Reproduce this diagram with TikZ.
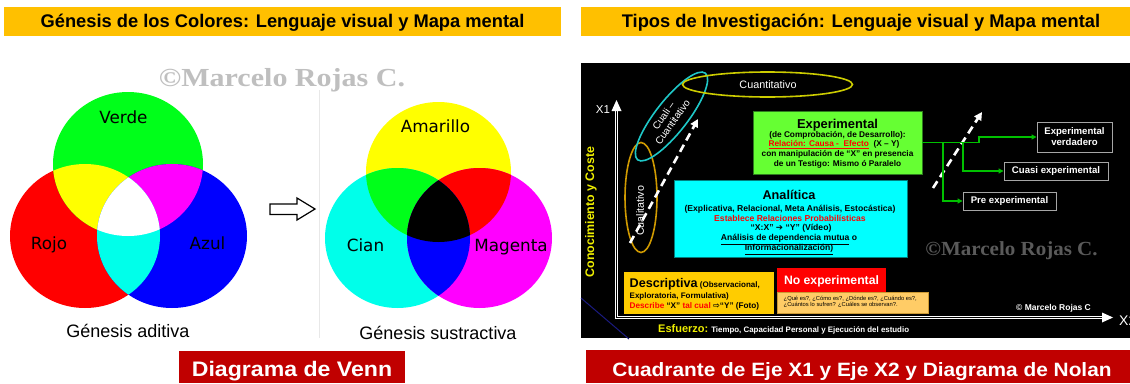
\documentclass[tikz,border=0pt]{standalone}
\usepackage{fontspec}
\usepackage{graphicx}
\setmainfont{Liberation Sans}
\newfontfamily\dvsans{DejaVu Sans}
\newfontfamily\wmserif{Liberation Serif}
\usetikzlibrary{arrows.meta}
\definecolor{titleor}{HTML}{FFC000}
\definecolor{darkred}{HTML}{C00000}
\definecolor{wmgray}{HTML}{BFBFBF}
\definecolor{sepgray}{HTML}{E8E8E8}
\definecolor{vred}{HTML}{FF0000}
\definecolor{vgreen}{HTML}{00FF1A}
\definecolor{vblue}{HTML}{0000FF}
\definecolor{vyellow}{HTML}{FFFF00}
\definecolor{vmag}{HTML}{FF00FF}
\definecolor{vcyan}{HTML}{00FFEA}
\definecolor{expgreen}{HTML}{66FF33}
\definecolor{expedge}{HTML}{2E7D1E}
\definecolor{analcyan}{HTML}{00FFFF}
\definecolor{analedge}{HTML}{008080}
\definecolor{descor}{HTML}{FFCC00}
\definecolor{qor}{HTML}{FFCC66}
\definecolor{qedge}{HTML}{CC9933}
\definecolor{linegreen}{HTML}{00C000}
\definecolor{axyellow}{HTML}{EEEE00}
\definecolor{goldell}{HTML}{D09A00}
\definecolor{cyanell}{HTML}{1FC8C8}
\definecolor{yellell}{HTML}{CCCC00}
\definecolor{wmdark}{HTML}{5A5A5A}
\definecolor{navyline}{HTML}{1A1A80}
\definecolor{boxedge}{HTML}{A6A6A6}
\newcommand{\fsz}[1]{\fontsize{#1}{#1}\selectfont}
\tikzset{
  plainbox/.style={rectangle, inner sep=0pt, outer sep=0pt},
  txt/.style={anchor=base, inner sep=0pt},
  ltxt/.style={anchor=base west, inner sep=0pt},
  vlabel/.style={anchor=base, inner sep=0pt, font=\dvsans\fsz{16.8}},
  resbox/.style={rectangle, draw=boxedge, line width=0.9pt, fill=black, text=white,
    font=\bfseries\fontsize{9.6}{11}\selectfont, align=center, inner sep=0pt},
  gline/.style={draw=linegreen, line width=1.1pt},
  garrow/.style={gline, -{Triangle[length=5pt,width=5pt]}},
  wdash/.style={white, line width=2.6pt, dash pattern=on 8pt off 5pt, -{Triangle[length=8pt,width=8pt]}},
  ell/.style={line width=1.6pt}
}
\begin{document}
\begin{tikzpicture}[x=1pt,y=-1pt]
\clip (0,0) rectangle (1130,383);
\fill[white] (0,0) rectangle (1130,383);

% ---------- titles ----------
\node[plainbox, fill=titleor, minimum width=557pt, minimum height=29pt] (barL) at (282.5,21.5) {};
\node[txt, font=\bfseries\fsz{18.3}] (titleL) at (282.5,27.5) {Génesis de los Colores: Lenguaje visual y Mapa mental};
\node[plainbox, fill=titleor, minimum width=549pt, minimum height=29pt] (barR) at (855.5,21.5) {};
\node[txt, font=\bfseries\fsz{18.3}] (titleR) at (861,27.5) {Tipos de Investigación: Lenguaje visual y Mapa mental};

% ---------- left panel ----------
\node[txt, text=wmgray, font=\wmserif\bfseries\fsz{26}] (wmL) at (282,86.5) {\scalebox{1.155}[1]{©Marcelo Rojas C.}};
\draw[sepgray, line width=0.8pt] (319,90) -- (319,338);

% additive Venn
\coordinate (cg) at (128,164);
\coordinate (cr) at (85,236);
\coordinate (cb) at (172,236);
\fill[vred] (cr) ellipse [x radius=75pt, y radius=72pt];
\fill[vgreen] (cg) ellipse [x radius=75pt, y radius=72pt];
\fill[vblue] (cb) ellipse [x radius=75pt, y radius=72pt];
\begin{scope}
  \clip (cr) ellipse [x radius=75pt, y radius=72pt];
  \fill[vyellow] (cg) ellipse [x radius=75pt, y radius=72pt];
\end{scope}
\begin{scope}
  \clip (cg) ellipse [x radius=75pt, y radius=72pt];
  \fill[vmag] (cb) ellipse [x radius=75pt, y radius=72pt];
\end{scope}
\begin{scope}
  \clip (cr) ellipse [x radius=75pt, y radius=72pt];
  \fill[vcyan] (cb) ellipse [x radius=75pt, y radius=72pt];
\end{scope}
\begin{scope}
  \clip (cr) ellipse [x radius=75pt, y radius=72pt];
  \clip (cg) ellipse [x radius=75pt, y radius=72pt];
  \fill[white] (cb) ellipse [x radius=75pt, y radius=72pt];
\end{scope}
\node[vlabel] (lverde) at (123.5,123.5) {Verde};
\node[vlabel] (lrojo) at (49,249) {Rojo};
\node[vlabel] (lazul) at (207.5,249) {Azul};

% hollow arrow
\draw[line width=1.2pt, fill=white, line join=miter] (270,204) -- (297,204) -- (297,198) -- (315,209)
  -- (297,220) -- (297,214.5) -- (270,214.5) -- cycle;

% subtractive Venn
\coordinate (sy) at (438.5,172);
\coordinate (sc) at (397.5,238);
\coordinate (sm) at (479.5,238);
\fill[vyellow] (sy) ellipse [x radius=72.5pt, y radius=70pt];
\fill[vcyan] (sc) ellipse [x radius=72.5pt, y radius=70pt];
\fill[vmag] (sm) ellipse [x radius=72.5pt, y radius=70pt];
\begin{scope}
  \clip (sy) ellipse [x radius=72.5pt, y radius=70pt];
  \fill[vgreen] (sc) ellipse [x radius=72.5pt, y radius=70pt];
\end{scope}
\begin{scope}
  \clip (sy) ellipse [x radius=72.5pt, y radius=70pt];
  \fill[vred] (sm) ellipse [x radius=72.5pt, y radius=70pt];
\end{scope}
\begin{scope}
  \clip (sc) ellipse [x radius=72.5pt, y radius=70pt];
  \fill[vblue] (sm) ellipse [x radius=72.5pt, y radius=70pt];
\end{scope}
\begin{scope}
  \clip (sy) ellipse [x radius=72.5pt, y radius=70pt];
  \clip (sc) ellipse [x radius=72.5pt, y radius=70pt];
  \fill[black] (sm) ellipse [x radius=72.5pt, y radius=70pt];
\end{scope}
\node[vlabel] (lamar) at (435.5,132) {Amarillo};
\node[vlabel] (lcian) at (365.5,251) {Cian};
\node[vlabel] (lmag) at (511,251) {Magenta};

\node[txt, font=\fsz{18}] (capA) at (128,337) {Génesis aditiva};
\node[txt, font=\fsz{18}] (capS) at (438,339) {Génesis sustractiva};

\node[plainbox, fill=darkred, minimum width=226pt, minimum height=32pt] (venbox) at (292,367) {};
\node[txt, text=white, font=\bfseries\fsz{21}] (ventext) at (292,376) {\scalebox{1.1}[1]{Diagrama de Venn}};

% ---------- right panel ----------
\node[plainbox, fill=black, minimum width=549pt, minimum height=275pt] (panel) at (855.5,200.5) {};
\draw[navyline, line width=1pt] (581,298) -- (629,339);

\coordinate (org) at (616.5,317.5);
\coordinate (x1b) at (616.5,110);
\coordinate (x2b) at (1103,317.5);
\draw[white, line width=0.9pt, double=black, double distance=1.1pt] (x1b) -- (org) -- (x2b);
\fill[white] (616.5,100) -- (611.5,111) -- (621.5,111) -- cycle;
\fill[white] (1113,317.5) -- (1102,312.5) -- (1102,322.5) -- cycle;
\node[txt, text=white, font=\fsz{11.5}] (lx1) at (603,113) {X1};
\node[ltxt, text=white, font=\fsz{14}] (lx2) at (1119,325) {X2};

\node[rotate=90, text=axyellow, font=\bfseries\fsz{12.4}, inner sep=0pt] (lcc) at (591,212) {Conocimiento y Coste};

% ellipses
\draw[ell, goldell] (641,197.5) ellipse [x radius=16pt, y radius=55pt];
\node[rotate=90, text=white, font=\fsz{10.7}, inner sep=0pt] (lcual) at (640,211) {Cualitativo};
\draw[ell, cyanell, rotate around={52:(671.5,116.5)}] (671.5,116.5) ellipse [x radius=55pt, y radius=16pt];
\node[rotate=55, text=white, font=\fontsize{10}{11}\selectfont, align=center, inner sep=0pt] (lcq) at (668,119) {Cuali –\\Cuantitativo};
\draw[ell, yellell] (767.5,84.5) ellipse [x radius=85pt, y radius=12.5pt];
\node[text=white, font=\fsz{10.8}, inner sep=0pt] (lcuant) at (768,84.5) {Cuantitativo};

% dashed arrows
\coordinate (da1) at (630,243);
\coordinate (db1) at (698,119);
\draw[wdash] (da1) -- (db1);
\coordinate (da2) at (933,188);
\coordinate (db2) at (982,112);
\draw[wdash] (da2) -- (db2);

% Experimental
\node[plainbox, fill=expgreen, draw=expedge, line width=0.6pt, minimum width=169pt, minimum height=63pt] (exp) at (837.5,142.5) {};
\node[txt, font=\bfseries\fsz{12.9}] (e1) at (837.5,128) {Experimental};
\node[txt, font=\bfseries\fsz{8.3}] (e2) at (837.5,137) {(de Comprobación, de Desarrollo):};
\node[txt, font=\bfseries\fsz{8.3}] (e3) at (834,146.7) {\textcolor{red}{\underline{Relación: Causa -\ \ Efecto}}\ \ (X – Y)};
\node[txt, font=\bfseries\fsz{8.3}] (e4) at (837.5,156.5) {con manipulación de “X” en presencia};
\node[txt, font=\bfseries\fsz{8.3}] (e5) at (837.5,166.5) {de un Testigo: Mismo ó Paralelo};

% result boxes
\node[resbox, minimum width=75pt, minimum height=30pt] (ev) at (1074.5,137) {Experimental\\verdadero};
\node[resbox, minimum width=104pt, minimum height=18pt] (cuasi) at (1056,171) {Cuasi experimental};
\node[resbox, minimum width=93pt, minimum height=18pt] (pre) at (1009.5,201) {Pre experimental};

\coordinate (j1) at (979,142.5);
\coordinate (b1) at (963,142.5);
\coordinate (b2) at (943,142.5);
\draw[garrow] (exp.east) -- (j1) |- (ev.west);
\draw[garrow] (b1) |- (cuasi.west);
\draw[garrow] (b2) |- (pre.west);

% Analitica
\node[plainbox, fill=analcyan, draw=analedge, line width=0.6pt, minimum width=233pt, minimum height=77pt] (ana) at (790.5,218.5) {};
\node[txt, font=\bfseries\fsz{12.7}] (a1) at (789,199) {Analítica};
\node[txt, font=\bfseries\fsz{8.6}] (a2) at (790,211) {(Explicativa, Relacional, Meta Análisis, Estocástica)};
\node[txt, font=\bfseries\fsz{8.6}, text=red] (a3) at (790,221) {Establece Relaciones Probabilísticas};
\node[txt, font=\bfseries\fsz{8.6}] (a4) at (791,230.7) {“X:X” {\dvsans ➔} “Y” (Vídeo)};
\node[txt, font=\bfseries\fsz{8.6}] (a5) at (789,240.7) {\underline{Análisis de dependencia mutua} o};
\node[txt, font=\bfseries\fsz{8.6}] (a6) at (789,250.7) {\underline{Informacionalización)}};

% Descriptiva
\node[plainbox, fill=descor, draw=black, line width=0.5pt, minimum width=151pt, minimum height=43pt] (desc) at (698.4,292.7) {};
\node[ltxt, font=\bfseries\fsz{8}] (d1) at (629.5,287.7) {{\fsz{12.6}Descriptiva} (Observacional,};
\node[ltxt, font=\bfseries\fsz{8}] (d2) at (629.5,298.3) {Exploratoria, Formulativa)};
\node[ltxt, font=\bfseries\fsz{8.2}] (d3) at (629.5,308.3) {\textcolor{red}{Describe} “X” \textcolor{red}{tal cual} {\dvsans ⇨}“Y” (Foto)};

% No experimental
\node[plainbox, fill=red, minimum width=108.7pt, minimum height=24.6pt] (noexp) at (831.6,280) {};
\node[txt, text=white, font=\bfseries\fsz{12.2}] (noext) at (831.5,284.3) {No experimental};
\node[plainbox, fill=qor, draw=qedge, line width=0.5pt, minimum width=151pt, minimum height=21pt] (qbox) at (852.8,302.8) {};
\node[ltxt, font=\fsz{5.8}] (q1) at (783.5,300.5) {¿Qué es?, ¿Cómo es?, ¿Dónde es?, ¿Cuándo es?,};
\node[ltxt, font=\fsz{5.8}] (q2) at (783.5,306.8) {¿Cuántos lo sufren? ¿Cuáles se observan?.};

% effort line
\node[ltxt] (esf) at (658,332.3) {\textcolor{axyellow}{\bfseries\fsz{11}Esfuerzo:}\textcolor{white}{\bfseries\fsz{7.9} Tiempo, Capacidad Personal y Ejecución del estudio}};

% watermarks
\node[txt, text=wmdark, font=\wmserif\bfseries\fsz{20}] (wmR) at (1011.5,255) {\scalebox{1.05}[1]{©Marcelo Rojas C.}};
\node[txt, text=white, font=\bfseries\fsz{8.5}] (cpy) at (1053.5,310.5) {© Marcelo Rojas C};

% bottom right title
\node[plainbox, fill=darkred, minimum width=544pt, minimum height=33pt] (nolbox) at (858,366.5) {};
\node[txt, text=white, font=\bfseries\fsz{19.3}] (noltext) at (862,376) {\scalebox{1.08}[1]{Cuadrante de Eje X1 y Eje X2 y Diagrama de Nolan}};
\end{tikzpicture}
\end{document}
